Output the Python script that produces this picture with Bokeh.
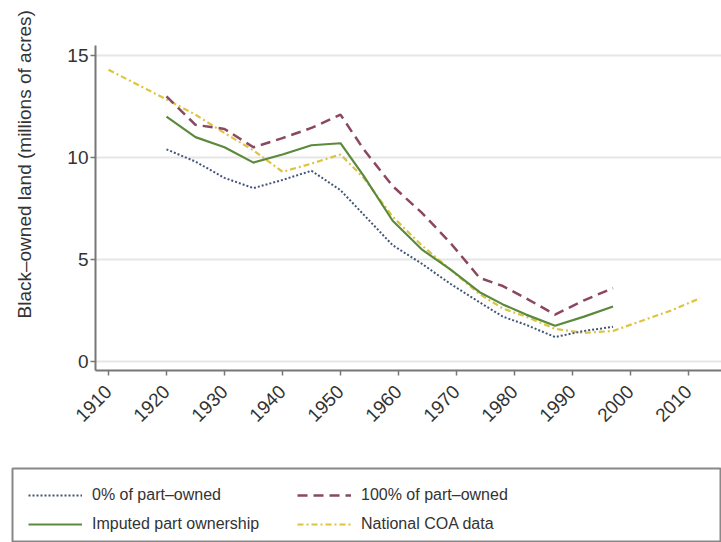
import math
from bokeh.plotting import figure
from bokeh.models import Range1d, Legend, LegendItem, FixedTicker, Title
from bokeh.embed import file_html
from bokeh.resources import INLINE

# ---- data (millions of acres) ----
years_part = [1920, 1925, 1930, 1935, 1940, 1945, 1950, 1954, 1959, 1964,
              1969, 1974, 1978, 1982, 1987, 1992, 1997]
zero_part = [10.4, 9.8, 9.0, 8.5, 8.9, 9.35, 8.4, 7.2, 5.7, 4.8,
             3.8, 2.9, 2.2, 1.8, 1.2, 1.5, 1.7]
full_part = [13.0, 11.6, 11.4, 10.5, 10.95, 11.45, 12.1, 10.4, 8.6, 7.3,
             5.8, 4.1, 3.7, 3.1, 2.3, 3.0, 3.6]
imputed = [12.0, 11.0, 10.5, 9.75, 10.15, 10.6, 10.7, 9.1, 6.9, 5.5,
           4.5, 3.4, 2.8, 2.3, 1.75, 2.2, 2.7]
years_coa = [1910, 1920, 1925, 1930, 1935, 1940, 1945, 1950, 1954, 1959, 1964,
             1969, 1974, 1978, 1982, 1987, 1992, 1997, 2002, 2007, 2012]
coa = [14.3, 12.85, 12.1, 11.2, 10.35, 9.3, 9.7, 10.15, 9.0, 7.1, 5.7,
       4.5, 3.3, 2.6, 2.2, 1.6, 1.4, 1.5, 2.0, 2.5, 3.1]

x_ticks = [1910, 1920, 1930, 1940, 1950, 1960, 1970, 1980, 1990, 2000, 2010]
y_ticks = [0, 5, 10, 15]

y_title = "Black\u2013owned land (millions of acres)"
labels = ["0% of part\u2013owned", "100% of part\u2013owned",
          "Imputed part ownership", "National COA data"]

FONT = "Liberation Sans"
C_BLUE = "#44557a"
C_RED = "#8b4761"
C_GREEN = "#5c8a3c"
C_YEL = "#dcc440"

STYLES = {
    "blue": dict(line_color=C_BLUE, line_width=2, line_dash="2 2"),
    "red": dict(line_color=C_RED, line_width=2.5, line_dash="10 6"),
    "green": dict(line_color=C_GREEN, line_width=2.2),
    "yel": dict(line_color=C_YEL, line_width=2.2, line_dash="6 3 2 3"),
}

p = figure(width=721, height=430, output_backend="svg", toolbar_location=None,
           x_range=Range1d(1907.76, 2015.7), y_range=Range1d(-0.44, 15.49),
           min_border_left=95, min_border_right=0, min_border_top=45,
           min_border_bottom=60)
p.outline_line_color = None
p.background_fill_color = "white"
p.border_fill_color = "white"

p.xgrid.visible = False
p.ygrid.ticker = FixedTicker(ticks=y_ticks)
p.ygrid.grid_line_color = "#e6e6e6"
p.ygrid.grid_line_width = 2

p.xaxis.ticker = FixedTicker(ticks=x_ticks)
p.yaxis.ticker = FixedTicker(ticks=y_ticks)
for ax in (p.xaxis, p.yaxis):
    ax.axis_line_color = "#777777"
    ax.axis_line_width = 2
    ax.major_tick_line_color = "#777777"
    ax.major_tick_line_width = 1.5
    ax.major_tick_out = 5
    ax.major_tick_in = 0
    ax.minor_tick_line_color = None
    ax.major_label_text_font = FONT
    ax.major_label_text_font_size = "19px"
    ax.major_label_text_color = "#333333"
p.xaxis.major_label_orientation = math.pi / 4
p.xaxis.major_label_standoff = 13
p.yaxis.major_label_standoff = 2

# spacer between the y tick labels and the y title
spacer = Title(text=" ", standoff=18, text_font_size="1px")
p.add_layout(spacer, "left")
ytitle = Title(text=y_title, align="left", offset=52, standoff=18,
               text_font=FONT, text_font_size="19px",
               text_font_style="normal", text_color="#333333")
p.add_layout(ytitle, "left")

p.line(years_coa, coa, **STYLES["yel"])
p.line(years_part, zero_part, **STYLES["blue"])
p.line(years_part, full_part, **STYLES["red"])
p.line(years_part, imputed, **STYLES["green"])

# ---- legend panel (separate figure, same series drawn off-view) ----
p2 = figure(width=721, height=112, output_backend="svg", toolbar_location=None,
            x_range=Range1d(0, 1), y_range=Range1d(0, 1),
            x_axis_location=None, y_axis_location=None,
            min_border_left=12, min_border_right=-3, min_border_top=38,
            min_border_bottom=-3)
p2.grid.visible = False
p2.outline_line_color = "#888888"
p2.outline_line_width = 2
p2.border_fill_color = "white"

l_yel = p2.line(years_coa, coa, **STYLES["yel"])
l_blue = p2.line(years_part, zero_part, **STYLES["blue"])
l_red = p2.line(years_part, full_part, **STYLES["red"])
l_green = p2.line(years_part, imputed, **STYLES["green"])

legend = Legend(items=[LegendItem(label=labels[0], renderers=[l_blue]),
                       LegendItem(label=labels[1], renderers=[l_red]),
                       LegendItem(label=labels[2], renderers=[l_green]),
                       LegendItem(label=labels[3], renderers=[l_yel])],
                orientation="horizontal", ncols=2,
                location=(16, 8), margin=0, padding=0, spacing=9,
                glyph_width=54, glyph_height=20, label_height=20,
                label_width=196, label_standoff=10,
                label_text_font=FONT, label_text_font_size="16px",
                label_text_color="#333333", border_line_color=None,
                background_fill_alpha=0)
p2.add_layout(legend, "center")

open("out.html", "w").write(file_html([p, p2], INLINE))
